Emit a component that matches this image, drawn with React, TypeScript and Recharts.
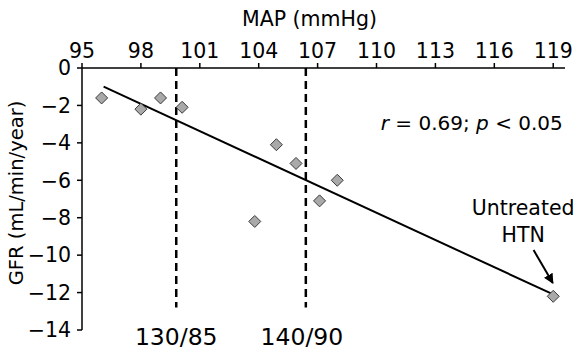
import React from 'react';
import {
  ComposedChart, Scatter, XAxis, YAxis, ReferenceLine, ReferenceDot,
} from 'recharts';

// MAP (mmHg) vs GFR change (mL/min/year)
const mapValues = [96, 98, 99, 100.1, 103.8, 104.9, 105.9, 107.1, 108, 119];
const gfrValues = [-1.6, -2.2, -1.6, -2.1, -8.2, -4.1, -5.1, -7.1, -6.0, -12.2];
const xTicks = [95, 98, 101, 104, 107, 110, 113, 116, 119];
const yTicks = [0, -2, -4, -6, -8, -10, -12, -14];

// regression line end points
const fitStart = { x: 96.1, y: -1.0 };
const fitEnd = { x: 119, y: -12.1 };

// BP goal thresholds
const thresholds = [
  { x: 99.8, label: '130/85', labelX: 99.8 },
  { x: 106.4, label: '140/90', labelX: 106.2 },
];
const dashBottom = -12.8;

const points = mapValues.map((x, i) => ({ x, y: gfrValues[i] }));

const FONT = '"DejaVu Sans", sans-serif';

const Diamond = (props: any) => {
  const { cx, cy } = props;
  const h = 6;
  return (
    <polygon
      points={`${cx},${cy - h} ${cx + h},${cy} ${cx},${cy + h} ${cx - h},${cy}`}
      fill="#a9a9a9"
      stroke="#3a3a3a"
      strokeWidth={1}
    />
  );
};

const textAt = (lines: string[] | React.ReactNode, size: number, anchor: string, dy = 0, lineGap = 0) => (p: any) => {
  const vb = p.viewBox || {};
  const x = vb.x + (vb.width || 0) / 2;
  const y = vb.y + (vb.height || 0) / 2 + dy;
  if (Array.isArray(lines)) {
    return (
      <text x={x} y={y} textAnchor={anchor} fontSize={size} fontFamily={FONT} fill="#000">
        {lines.map((l, i) => (
          <tspan key={i} x={x} dy={i === 0 ? size * 0.36 - ((lines.length - 1) * lineGap) / 2 : lineGap}>{l}</tspan>
        ))}
      </text>
    );
  }
  return (
    <text x={x} y={y + size * 0.36} textAnchor={anchor} fontSize={size} fontFamily={FONT} fill="#000">
      {lines}
    </text>
  );
};

export default function App() {
  return (
    <div style={{ position: 'absolute', left: 0, top: 0, background: '#fff' }}>
      <ComposedChart width={574} height={352} margin={{ top: 0, right: 9, bottom: 22, left: 0 }}>
        <defs>
          <marker id="arrowHead" viewBox="0 0 10 10" refX="9" refY="5" markerWidth="5" markerHeight="5" orient="auto">
            <path d="M0,0 L10,5 L0,10 z" fill="#000" />
          </marker>
        </defs>
        <XAxis
          type="number"
          dataKey="x"
          orientation="top"
          height={68}
          domain={[95, 119.6]}
          ticks={xTicks}
          allowDataOverflow
          stroke="#000"
          strokeWidth={1.5}
          tickSize={5}
          tickMargin={5}
          tick={{ fill: '#000', fontSize: 20.5, fontFamily: FONT }}
          label={{
            content: (p: any) => (
              <text
                x={p.viewBox.x + p.viewBox.width / 2 - 14}
                y={p.viewBox.y + 26}
                textAnchor="middle"
                fontSize={20.5}
                fontFamily={FONT}
                fill="#000"
              >
                MAP (mmHg)
              </text>
            ),
          }}
        />
        <YAxis
          type="number"
          dataKey="y"
          width={82}
          domain={[-14, 0]}
          ticks={yTicks}
          allowDataOverflow
          stroke="#000"
          strokeWidth={1.5}
          tickSize={5}
          tickMargin={6}
          tick={{ fill: '#000', fontSize: 20.5, fontFamily: FONT }}
          tickFormatter={(v: number) => String(v).replace('-', '\u2212')}
          label={{
            content: (p: any) => {
              const x = p.viewBox.x + 16;
              const y = p.viewBox.y + p.viewBox.height / 2 - 6;
              return (
                <text
                  x={x}
                  y={y}
                  transform={`rotate(-90, ${x}, ${y})`}
                  textAnchor="middle"
                  dominantBaseline="central"
                  fontSize={19.5}
                  fontFamily={FONT}
                  fill="#000"
                >
                  GFR (mL/min/year)
                </text>
              );
            },
          }}
        />

        {thresholds.map((t) => (
          <ReferenceLine
            key={t.label}
            segment={[{ x: t.x, y: 0 }, { x: t.x, y: dashBottom }]}
            stroke="#000"
            strokeWidth={2.5}
            strokeDasharray="8 5"
          />
        ))}
        {thresholds.map((t) => (
          <ReferenceDot
            key={'l' + t.label}
            x={t.labelX}
            y={-14}
            r={1}
            fill="none"
            stroke="none"
            ifOverflow="visible"
            label={{ content: textAt(t.label, 23.5, 'middle', 7) }}
          />
        ))}

        <ReferenceLine
          segment={[fitStart, fitEnd]}
          stroke="#000"
          strokeWidth={2}
        />

        <ReferenceDot
          x={119.49}
          y={-2.94}
          r={1}
          fill="none"
          stroke="none"
          ifOverflow="visible"
          label={{
            content: textAt(
              <>
                <tspan fontStyle="italic">r</tspan>
                {' = 0.69; '}
                <tspan fontStyle="italic">p</tspan>
                {' < 0.05'}
              </>,
              20,
              'end',
            ),
          }}
        />

        <ReferenceDot
          x={117.47}
          y={-8.17}
          r={1}
          fill="none"
          stroke="none"
          ifOverflow="visible"
          label={{ content: textAt(['Untreated', 'HTN'], 20.5, 'middle', 0, 27) }}
        />
        <ReferenceLine
          segment={[{ x: 118.0, y: -9.73 }, { x: 118.98, y: -11.49 }]}
          stroke="#000"
          strokeWidth={2}
          markerEnd="url(#arrowHead)"
        />

        <Scatter data={points} shape={<Diamond />} isAnimationActive={false} />
      </ComposedChart>
    </div>
  );
}
